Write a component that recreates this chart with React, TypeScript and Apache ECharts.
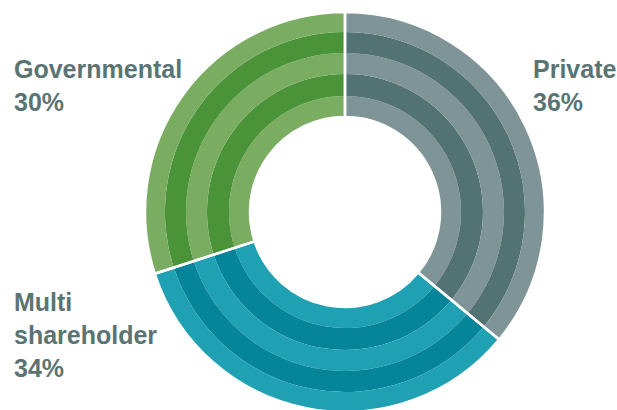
import React, { useEffect, useRef } from "react";
import * as echarts from "echarts";

const categories = ["Private", "Multi shareholder", "Governmental"];
const values = [36, 34, 30];
const labelLines = [["Private"], ["Multi", "shareholder"], ["Governmental"]];
const lightColors = ["#7e9496", "#20a0b3", "#7aac62"];
const darkColors = ["#537274", "#05849a", "#4a9339"];

const CX = 345;
const CY = 212;
const ringEdges = [95, 116, 138, 159, 180, 200];
const labelPos = [
  { x: 533, y: 52 },
  { x: 14, y: 285 },
  { x: 14, y: 52 },
];

export default function App() {
  const ref = useRef<HTMLDivElement>(null);
  useEffect(() => {
    if (!ref.current) return;
    const chart = echarts.init(ref.current, undefined, { renderer: "svg" });
    const series: any[] = [];
    for (let r = 0; r < ringEdges.length - 1; r++) {
      const light = r % 2 === 0;
      series.push({
        type: "pie",
        center: [CX, CY],
        radius: [ringEdges[r], ringEdges[r + 1]],
        startAngle: 90,
        clockwise: true,
        silent: true,
        label: { show: false },
        labelLine: { show: false },
        itemStyle: { borderWidth: 0 },
        data: categories.map((c, i) => ({
          name: c,
          value: values[i],
          itemStyle: { color: light ? lightColors[i] : darkColors[i] },
        })),
      });
    }
    series.push({
      type: "pie",
      center: [CX, CY],
      radius: [ringEdges[0], ringEdges[ringEdges.length - 1]],
      startAngle: 90,
      clockwise: true,
      silent: true,
      label: { show: false },
      labelLine: { show: false },
      itemStyle: { color: "rgba(0,0,0,0)", borderColor: "#ffffff", borderWidth: 2.5 },
      data: categories.map((c, i) => ({ name: c, value: values[i] })),
    });
    const graphic = categories.map((c, i) => ({
      type: "text",
      left: labelPos[i].x,
      top: labelPos[i].y,
      silent: true,
      style: {
        text: [...labelLines[i], values[i] + "%"].join("\n"),
        fill: "#5a7474",
        font: "bold 25px 'Liberation Sans', Arial, sans-serif",
        lineHeight: 33,
      },
    }));
    chart.setOption({
      animation: false,
      backgroundColor: "#ffffff",
      series,
      graphic,
    });
    return () => chart.dispose();
  }, []);
  return (
    <div
      ref={ref}
      style={{ position: "fixed", left: 0, top: 0, width: 617, height: 410 }}
    />
  );
}
